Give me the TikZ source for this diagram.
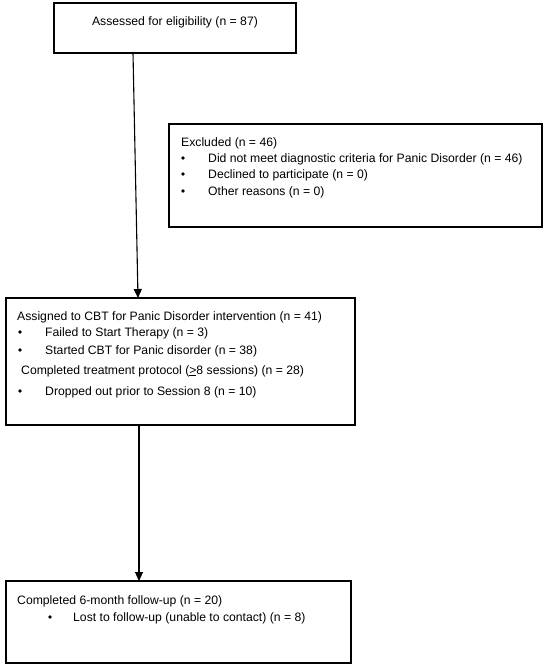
\documentclass[tikz,border=0pt]{standalone}
\usepackage{fontspec}
\setmainfont{Liberation Sans}
\usetikzlibrary{arrows.meta}
\begin{document}
\begin{tikzpicture}[x=1pt,y=-1pt,
  box/.style={draw,line width=1.2pt,inner sep=0pt},
  txt/.style={anchor=west,inner sep=0pt,font=\fontsize{12.2}{14}\selectfont},
  bul/.style={fill,circle,inner sep=0pt,minimum size=3.6pt},
  arr/.style={line width=1.1pt,-{Triangle[length=9pt,width=8pt]}}]
\useasboundingbox (0,0) rectangle (550,671);
% boxes
\draw[box] (54,3) rectangle (296,53);
\draw[box] (169,124) rectangle (542,227);
\draw[box] (6,298) rectangle (355,425);
\draw[box] (6,581) rectangle (351,663);
% texts
\node[txt,anchor=center] (t1) at (175,22) {Assessed for eligibility (n = 87)};
\node[txt] (e0) at (181,143) {Excluded (n = 46)};
\node[bul] (e1b) at (183,158) {};
\node[txt] (e1) at (208,159) {Did not meet diagnostic criteria for Panic Disorder (n = 46)};
\node[bul] (e2b) at (183,174) {};
\node[txt] (e2) at (208,175) {Declined to participate (n = 0)};
\node[bul] (e3b) at (183,191) {};
\node[txt] (e3) at (208,192) {Other reasons (n = 0)};
\node[txt] (m0) at (17,317) {Assigned to CBT for Panic Disorder intervention (n = 41)};
\node[bul] (m1b) at (20,332) {};
\node[txt] (m1) at (45,333) {Failed to Start Therapy (n = 3)};
\node[bul] (m2b) at (20,350) {};
\node[txt] (m2) at (45,351) {Started CBT for Panic disorder (n = 38)};
\node[txt] (m3) at (21,371) {Completed treatment protocol (\underline{>}8 sessions) (n = 28)};
\node[bul] (m4b) at (20,391) {};
\node[txt] (m4) at (45,392) {Dropped out prior to Session 8 (n = 10)};
\node[txt] (b0) at (17,601) {Completed 6-month follow-up (n = 20)};
\node[bul] (b1b) at (50,617) {};
\node[txt] (b1) at (73,618) {Lost to follow-up (unable to contact) (n = 8)};
% connectors
\coordinate (a1s) at (133,53);
\coordinate (a1e) at (138,298);
\coordinate (a2s) at (139,425);
\coordinate (a2e) at (139,581);
\draw[arr] (a1s) -- (a1e);
\draw[arr] (a2s) -- (a2e);
\end{tikzpicture}
\end{document}
